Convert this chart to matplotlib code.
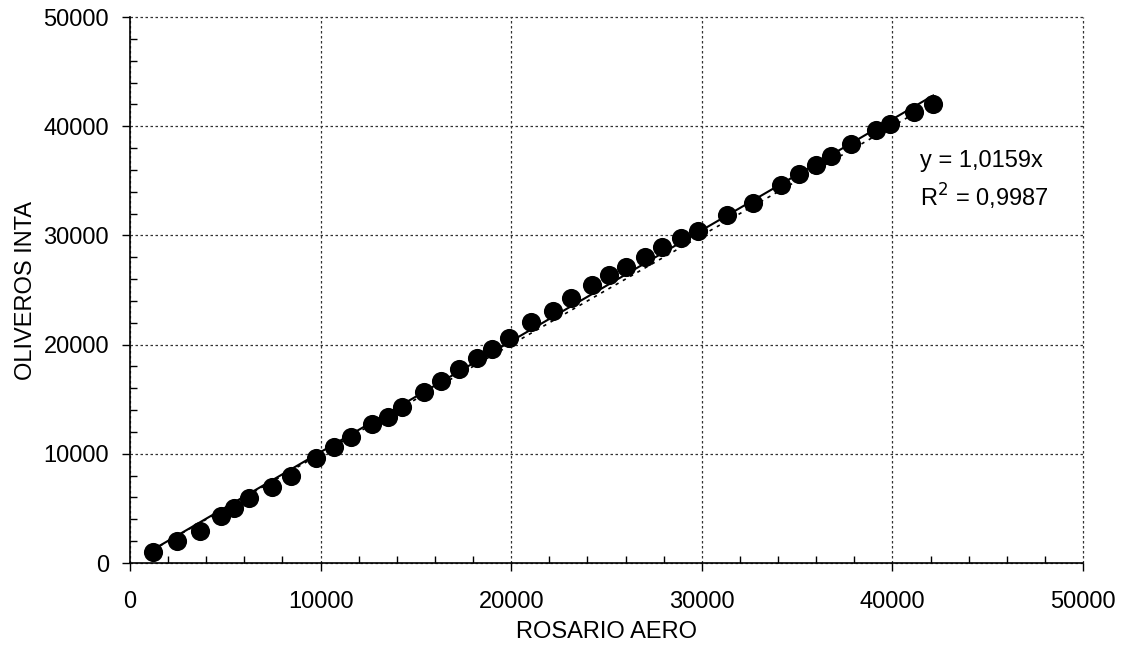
import matplotlib
matplotlib.use("Agg")
import matplotlib.pyplot as plt
import numpy as np
from matplotlib.ticker import MultipleLocator

plt.rcParams['font.family'] = ['Liberation Sans', 'DejaVu Sans']

rosario = [1200, 2480, 3660, 4780, 5470, 6250, 7450, 8460, 9740, 10690,
           11580, 12710, 13510, 14280, 15400, 16300, 17280, 18200, 19010, 19900,
           21040, 22210, 23150, 24240, 25140, 26020, 27030, 27920, 28910, 29810,
           31300, 32700, 34170, 35080, 35990, 36770, 37840, 39150, 39880, 41110,
           42140]
oliveros = [1000, 2040, 2930, 4330, 5070, 5920, 6990, 7990, 9640, 10650,
            11570, 12700, 13400, 14320, 15660, 16670, 17770, 18800, 19630, 20630,
            22040, 23110, 24240, 25430, 26370, 27140, 28060, 28970, 29790, 30430,
            31840, 32940, 34620, 35650, 36420, 37240, 38370, 39650, 40180, 41270,
            42060]
slope = 1.0159
r2 = 0.9987
xticks = [0, 10000, 20000, 30000, 40000, 50000]
yticks = [0, 10000, 20000, 30000, 40000, 50000]

fig = plt.figure(figsize=(11.25, 6.48), dpi=100)
ax = fig.add_axes([130/1125, 1-563/648, (1083-130)/1125, (563-17)/648])

xs = np.array([min(rosario), max(rosario)])
ax.plot(xs, xs, color='black', linestyle=(0, (2, 3)), linewidth=1.2, zorder=2)
ax.plot(xs, slope*xs, color='black', linestyle='-', linewidth=1.5, zorder=3)
ax.scatter(rosario, oliveros, s=190, color='black', zorder=4, linewidths=0)

ax.set_xlim(0, 50000)
ax.set_ylim(0, 50000)
ax.set_xticks(xticks)
ax.set_yticks(yticks)
ax.set_xticklabels([str(v) for v in xticks])
ax.set_yticklabels([str(v) for v in yticks])
ax.xaxis.set_minor_locator(MultipleLocator(2000))
ax.yaxis.set_minor_locator(MultipleLocator(2000))
ax.tick_params(which='major', direction='out', length=6, width=1, labelsize=17)
ax.tick_params(axis='x', which='major', pad=14)
ax.tick_params(axis='y', which='major', pad=9)
ax.tick_params(which='minor', direction='in', length=5, width=1)
ax.tick_params(axis='x', which='both', top=False)
ax.tick_params(axis='y', which='both', right=False)
ax.spines['top'].set_visible(False)
ax.spines['right'].set_visible(False)
for s in ['left', 'bottom']:
    ax.spines[s].set_linewidth(1.2)
ax.grid(True, which='major', color='#333333', linestyle=(0, (2, 2)), linewidth=0.9)
ax.set_axisbelow(True)
for gl in ax.get_xgridlines() + ax.get_ygridlines():
    gl.set_clip_on(False)

ax.set_xlabel('ROSARIO AERO', fontsize=17, labelpad=6)
ax.set_ylabel('OLIVEROS INTA', fontsize=17, labelpad=5)

ax.text(41450, 36800, 'y = 1,0159x', fontsize=17, ha='left', va='center')
ax.text(41450, 33500, 'R$^2$ = 0,9987', fontsize=17, ha='left', va='center')

fig.savefig('out.png', dpi=100)
